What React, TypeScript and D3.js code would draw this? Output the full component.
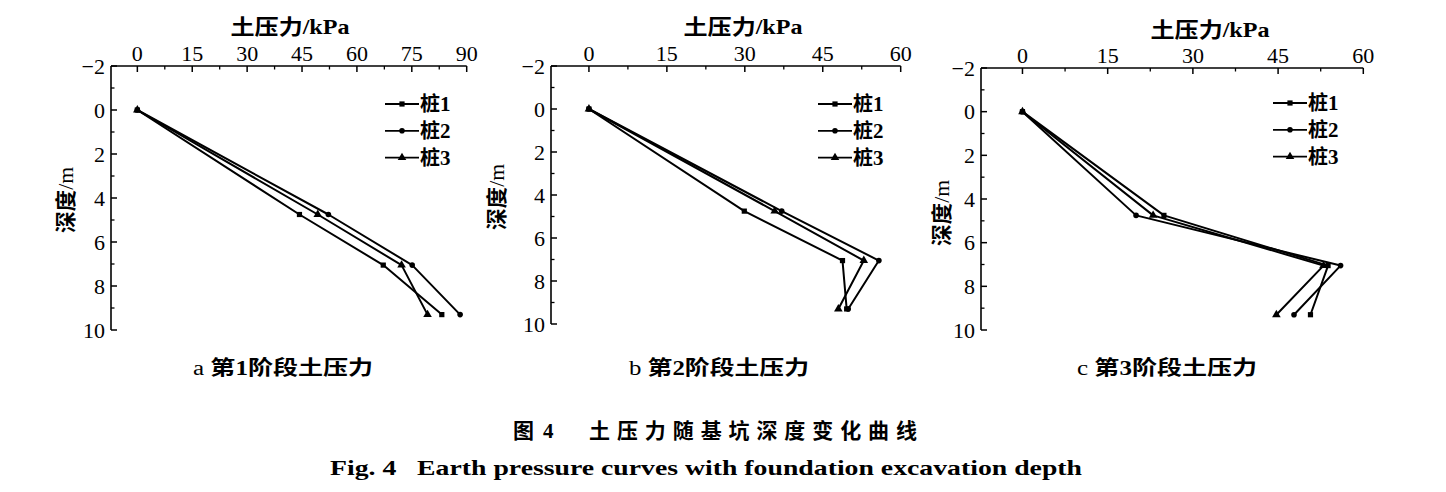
import React from "react";
import * as d3 from "d3";

// ---- data ----
const depths = [0, 4.75, 7.05, 9.3];
const pileNames = ["桩1", "桩2", "桩3"];
const stage1Pile1 = [0, 44.3, 67.2, 83.2];
const stage1Pile2 = [0, 52.2, 75.1, 88.2];
const stage1Pile3 = [0, 49.3, 72.2, 79.3];
const stage2Pile1 = [0, 29.9, 48.8, 49.6];
const stage2Pile2 = [0, 37.1, 55.8, 49.9];
const stage2Pile3 = [0, 35.75, 52.9, 48.0];
const stage3Pile1 = [0, 24.9, 53.8, 50.7];
const stage3Pile2 = [0, 20.0, 56.0, 47.8];
const stage3Pile3 = [0, 23.0, 53.0, 44.7];
const xTicks1 = [0, 15, 30, 45, 60, 75, 90];
const xTicks23 = [0, 15, 30, 45, 60];
const yTicks = [-2, 0, 2, 4, 6, 8, 10];
const subCapLetters = ["a", "b", "c"];
const subCapStages = ["1", "2", "3"];
const captionZhNum = ["图", "4"];
const captionZhText = "土压力随基坑深度变化曲线";
const captionEn = "Fig. 4   Earth pressure curves with foundation excavation depth";

// ---- layout ----
const panels = [
  { series: [stage1Pile1, stage1Pile2, stage1Pile3], xDomain: [-7.2, 90], xRange: [111, 466.7], yRange: [66, 330], xTicks: xTicks1, titleX: 290, titleY: 27, yTitleX: 66, yTitleY: 200, legendX: 385, legendY: 104, capX: 283 },
  { series: [stage2Pile1, stage2Pile2, stage2Pile3], xDomain: [-7.3, 60], xRange: [551, 900.7], yRange: [66, 324], xTicks: xTicks23, titleX: 743, titleY: 27, yTitleX: 497, yTitleY: 197, legendX: 818, legendY: 104, capX: 719 },
  { series: [stage3Pile1, stage3Pile2, stage3Pile3], xDomain: [-7.3, 60], xRange: [981, 1363.3], yRange: [68, 330], xTicks: xTicks23, titleX: 1210, titleY: 30, yTitleX: 942, yTitleY: 213, legendX: 1273, legendY: 103, capX: 1167 },
];

const serif = "'Liberation Serif', 'Times New Roman', serif";
const cjk = "'Noto Sans CJK SC', sans-serif";

function Marker({ kind, x, y }: { kind: number; x: number; y: number }) {
  if (kind === 0) return <rect x={x - 2.6} y={y - 2.6} width={5.2} height={5.2} fill="#000" />;
  if (kind === 1) return <circle cx={x} cy={y} r={2.8} fill="#000" />;
  const p = d3.symbol().type(d3.symbolTriangle).size(32)();
  return <path d={p as string} transform={`translate(${x},${y})`} fill="#000" />;
}

function Panel({ cfg, idx }: { cfg: any; idx: number }) {
  const x = d3.scaleLinear().domain(cfg.xDomain).range(cfg.xRange);
  const y = d3.scaleLinear().domain([-2, 10]).range(cfg.yRange);
  const left = cfg.xRange[0];
  const right = cfg.xRange[1];
  const top = cfg.yRange[0];
  const bottom = cfg.yRange[1];
  const xMax = cfg.xDomain[1];
  const minorX = d3.range(7.5, xMax, 15);
  const minorY = d3.range(-1, 10, 2);
  const line = d3
    .line<number>()
    .x((d) => x(d))
    .y((_, i) => y(depths[i]));
  return (
    <g>
      {/* axes */}
      <line x1={left} x2={right} y1={top} y2={top} stroke="#000" strokeWidth={1.6} />
      <line x1={left} x2={left} y1={top} y2={bottom} stroke="#000" strokeWidth={1.6} />
      {cfg.xTicks.map((t: number) => (
        <g key={"xt" + t}>
          <line x1={x(t)} x2={x(t)} y1={top} y2={top + 6} stroke="#000" strokeWidth={1.5} />
          <text x={x(t)} y={top - 5} textAnchor="middle" fontFamily={serif} fontSize={22} fill="#000">
            {t}
          </text>
        </g>
      ))}
      {minorX.map((t: number) => (
        <line key={"xm" + t} x1={x(t)} x2={x(t)} y1={top} y2={top + 3.5} stroke="#000" strokeWidth={1.3} />
      ))}
      {yTicks.map((t) => (
        <g key={"yt" + t}>
          <line x1={left} x2={left + 6} y1={y(t)} y2={y(t)} stroke="#000" strokeWidth={1.5} />
          <text x={left - 6} y={y(t)} dy="0.35em" textAnchor="end" fontFamily={serif} fontSize={22} fill="#000">
            {t < 0 ? "−" + Math.abs(t) : t}
          </text>
        </g>
      ))}
      {minorY.map((t: number) => (
        <line key={"ym" + t} x1={left} x2={left + 3.5} y1={y(t)} y2={y(t)} stroke="#000" strokeWidth={1.3} />
      ))}
      {/* titles */}
      <text x={cfg.titleX} y={cfg.titleY} dy="0.35em" textAnchor="middle" fontSize={21} fontWeight={700} fill="#000" textLength={119} lengthAdjust="spacingAndGlyphs">
        <tspan fontFamily={cjk}>土压力</tspan>
        <tspan fontFamily={serif}>/kPa</tspan>
      </text>
      <text
        transform={`translate(${cfg.yTitleX},${cfg.yTitleY}) rotate(-90)`}
        textAnchor="middle"
        dy="0.35em"
        fontSize={21}
        fontWeight={700}
        fill="#000"
        textLength={66}
        lengthAdjust="spacingAndGlyphs"
      >
        <tspan fontFamily={cjk}>深度</tspan>
        <tspan fontFamily={serif} fontWeight={400}>/m</tspan>
      </text>
      {/* series */}
      {cfg.series.map((s: number[], si: number) => (
        <g key={"s" + si}>
          <path d={line(s) as string} fill="none" stroke="#000" strokeWidth={2} strokeLinejoin="round" />
          {s.map((v, i) => (
            <Marker key={i} kind={si} x={x(v)} y={y(depths[i])} />
          ))}
        </g>
      ))}
      {/* legend */}
      {pileNames.map((n, i) => {
        const ly = cfg.legendY + i * 26.8;
        return (
          <g key={"lg" + i}>
            <line x1={cfg.legendX} x2={cfg.legendX + 34} y1={ly} y2={ly} stroke="#000" strokeWidth={1.8} />
            <Marker kind={i} x={cfg.legendX + 17} y={ly} />
            <text x={cfg.legendX + 35} y={ly} dy="0.36em" fontSize={20} fontWeight={700} fill="#000">
              <tspan fontFamily={cjk}>{n.slice(0, 1)}</tspan>
              <tspan fontFamily={serif} fontSize={21}>{n.slice(1)}</tspan>
            </text>
          </g>
        );
      })}
      {/* sub caption */}
      <text x={cfg.capX} y={368} dy="0.36em" textAnchor="middle" fontSize={20} fontWeight={700} fill="#000" textLength={180} lengthAdjust="spacingAndGlyphs">
        <tspan fontFamily={serif} fontWeight={400}>{subCapLetters[idx] + " "}</tspan>
        <tspan fontFamily={cjk}>第</tspan>
        <tspan fontFamily={serif}>{subCapStages[idx]}</tspan>
        <tspan fontFamily={cjk}>阶段土压力</tspan>
      </text>
    </g>
  );
}

export default function App() {
  return (
    <svg
      width={1446}
      height={492}
      style={{ position: "absolute", left: 0, top: 0, background: "#fff" }}
    >
      <rect x={0} y={0} width={1446} height={492} fill="#fff" />
      {panels.map((p, i) => (
        <Panel key={i} cfg={p} idx={i} />
      ))}
      <text x={513} y={430} dy="0.36em" fontSize={21} fontWeight={700} fontFamily={cjk} fill="#000">
        {captionZhNum[0]}
      </text>
      <text x={543} y={430} dy="0.36em" fontSize={21} fontWeight={700} fontFamily={serif} fill="#000">
        {captionZhNum[1]}
      </text>
      <text x={589} y={430} dy="0.36em" fontSize={21} fontWeight={700} fontFamily={cjk} fill="#000" textLength={328} lengthAdjust="spacing">
        {captionZhText}
      </text>
      <text x={706} y={467} dy="0.36em" textAnchor="middle" fontSize={21} fontWeight={700} fontFamily={serif} fill="#000" textLength={752} lengthAdjust="spacingAndGlyphs" xmlSpace="preserve">
        {captionEn}
      </text>
    </svg>
  );
}
